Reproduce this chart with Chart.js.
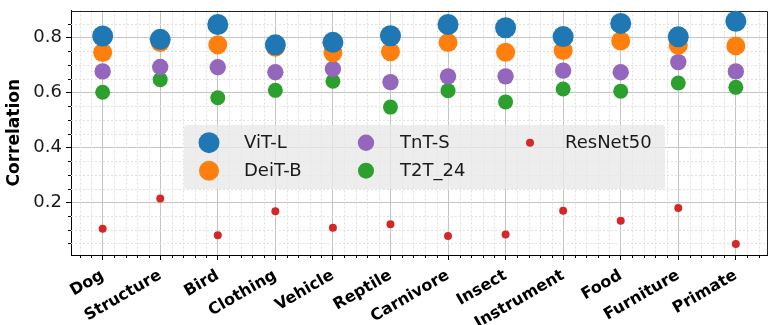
<!DOCTYPE html>
<html>
<head>
<meta charset="utf-8">
<script src="https://cdn.jsdelivr.net/npm/chart.js@4/dist/chart.umd.min.js"></script>
<style>
  html, body { margin: 0; padding: 0; background: #ffffff; overflow: hidden; }
  #wrap { width: 778px; height: 325px; }
</style>
</head>
<body>
<div id="wrap"><canvas id="chart" width="778" height="325"></canvas></div>
<script>
// Per-category correlation for each backbone
const categories = ['Dog', 'Structure', 'Bird', 'Clothing', 'Vehicle', 'Reptile',
                    'Carnivore', 'Insect', 'Instrument', 'Food', 'Furniture', 'Primate'];
const vitL     = [0.806, 0.794, 0.848, 0.774, 0.783, 0.807, 0.848, 0.836, 0.804, 0.852, 0.803, 0.860];
const deitB    = [0.746, 0.782, 0.774, 0.765, 0.745, 0.749, 0.782, 0.747, 0.753, 0.788, 0.772, 0.770];
const tntS     = [0.677, 0.693, 0.692, 0.674, 0.686, 0.638, 0.659, 0.659, 0.680, 0.674, 0.711, 0.677];
const t2t24    = [0.601, 0.647, 0.581, 0.608, 0.641, 0.547, 0.607, 0.566, 0.613, 0.605, 0.635, 0.619];
const resnet50 = [0.104, 0.214, 0.080, 0.167, 0.107, 0.120, 0.077, 0.083, 0.169, 0.133, 0.179, 0.048];
const yTickValues = [0.2, 0.4, 0.6, 0.8];

const FONT = "'DejaVu Sans', 'Liberation Sans', sans-serif";

function pts(arr) { return arr.map((v, i) => ({ x: i, y: v })); }

const series = [
  { label: 'ViT-L',    values: vitL,     color: '#1f77b4', r: 10.5, lr: 10.5 },
  { label: 'DeiT-B',   values: deitB,    color: '#ff7f0e', r: 9.5,  lr: 10 },
  { label: 'TnT-S',    values: tntS,     color: '#9467bd', r: 8.2,  lr: 8.2 },
  { label: 'T2T_24',   values: t2t24,    color: '#2ca02c', r: 7.5,  lr: 8 },
  { label: 'ResNet50', values: resnet50, color: '#d62728', r: 4,    lr: 4 }
];

// Minor grid lines and minor tick marks, drawn from the chart's scales
const minorPlugin = {
  id: 'minorGrid',
  beforeDatasetsDraw(chart) {
    const { ctx, chartArea: a, scales: { x, y } } = chart;
    ctx.save();
    ctx.strokeStyle = '#e0e0e0';
    ctx.lineWidth = 1;
    ctx.setLineDash([2, 2]);
    const xm = [], ym = [];
    for (let k = Math.ceil(x.min / 0.2); k <= Math.floor(x.max / 0.2); k++) {
      if (k % 5 !== 0) xm.push(k * 0.2);
    }
    for (let k = Math.ceil(y.min / 0.05); k <= Math.floor(y.max / 0.05); k++) {
      if (k % 4 !== 0) ym.push(k * 0.05);
    }
    xm.forEach(v => {
      const px = Math.round(x.getPixelForValue(v)) + 0.5;
      ctx.beginPath(); ctx.moveTo(px, a.top); ctx.lineTo(px, a.bottom); ctx.stroke();
    });
    ym.forEach(v => {
      const py = Math.round(y.getPixelForValue(v)) + 0.5;
      ctx.beginPath(); ctx.moveTo(a.left, py); ctx.lineTo(a.right, py); ctx.stroke();
    });
    // minor tick marks
    ctx.setLineDash([]);
    ctx.strokeStyle = '#000000';
    xm.forEach(v => {
      const px = Math.round(x.getPixelForValue(v)) + 0.5;
      ctx.beginPath(); ctx.moveTo(px, a.bottom); ctx.lineTo(px, a.bottom + 3); ctx.stroke();
    });
    ym.forEach(v => {
      const py = Math.round(y.getPixelForValue(v)) + 0.5;
      ctx.beginPath(); ctx.moveTo(a.left, py); ctx.lineTo(a.left - 3, py); ctx.stroke();
    });
    // top and right spines
    ctx.strokeStyle = '#222222';
    ctx.beginPath();
    ctx.moveTo(a.left, Math.round(a.top) + 0.5);
    ctx.lineTo(a.right, Math.round(a.top) + 0.5);
    ctx.lineTo(a.right, a.bottom);
    ctx.stroke();
    ctx.restore();
  }
};

// Three-column legend box inside the plot area
const legendPlugin = {
  id: 'boxLegend',
  afterDatasetsDraw(chart) {
    const { ctx } = chart;
    const box = { x: 184, y: 125, w: 481, h: 64 };
    const rows = [142.7, 170.7];
    const cols = [{ m: 209, t: 244 }, { m: 366, t: 400 }, { m: 530, t: 565 }];
    ctx.save();
    ctx.fillStyle = 'rgba(232,232,232,0.78)';
    ctx.beginPath();
    ctx.roundRect(box.x, box.y, box.w, box.h, 3);
    ctx.fill();
    ctx.font = '18px ' + FONT;
    ctx.textBaseline = 'middle';
    ctx.textAlign = 'left';
    series.forEach((s, i) => {
      const c = cols[Math.floor(i / 2)];
      const ry = rows[i % 2];
      ctx.fillStyle = s.color;
      ctx.beginPath();
      ctx.arc(c.m, ry, s.lr, 0, Math.PI * 2);
      ctx.fill();
      ctx.fillStyle = '#1a1a1a';
      ctx.fillText(s.label, c.t, ry + 1);
    });
    ctx.restore();
  }
};

new Chart(document.getElementById('chart'), {
  type: 'scatter',
  data: {
    datasets: series.map(s => ({
      label: s.label,
      data: pts(s.values),
      backgroundColor: s.color,
      borderWidth: 0,
      pointRadius: s.r,
      pointHoverRadius: s.r
    }))
  },
  plugins: [minorPlugin, legendPlugin],
  options: {
    responsive: false,
    animation: false,
    devicePixelRatio: 1,
    layout: { padding: { top: 9, right: 2, left: 0, bottom: 0 } },
    plugins: { legend: { display: false }, tooltip: { enabled: false } },
    scales: {
      x: {
        type: 'linear',
        min: -0.55,
        max: 11.55,
        afterBuildTicks: (scale) => { scale.ticks = categories.map((c, i) => ({ value: i })); },
        afterFit: (scale) => {
          scale.height = 70;
          scale.paddingLeft = 0;
          scale.paddingRight = 0;
        },
        ticks: {
          autoSkip: false,
          maxRotation: 30,
          minRotation: 30,
          padding: 6,
          color: '#000000',
          font: { family: FONT, size: 16, weight: 'bold' },
          callback: (v) => categories[v]
        },
        grid: { color: '#c4c4c4', lineWidth: 1, tickLength: 5, tickColor: '#000000' },
        border: { color: '#000000', width: 1 }
      },
      y: {
        min: 0.008,
        max: 0.899,
        afterBuildTicks: (scale) => { scale.ticks = yTickValues.map(v => ({ value: v })); },
        afterFit: (scale) => {
          scale.width = 71;
          scale.paddingTop = 0;
          scale.paddingBottom = 0;
        },
        ticks: {
          padding: 4,
          color: '#1a1a1a',
          font: { family: FONT, size: 18 },
          callback: (v) => v.toFixed(1)
        },
        grid: { color: '#c4c4c4', lineWidth: 1, tickLength: 5, tickColor: '#000000' },
        border: { color: '#000000', width: 1 },
        title: {
          display: true,
          text: 'Correlation',
          color: '#000000',
          font: { family: FONT, size: 17, weight: 'bold' },
          padding: { top: 4, bottom: 0 }
        }
      }
    }
  }
});
</script>
</body>
</html>
